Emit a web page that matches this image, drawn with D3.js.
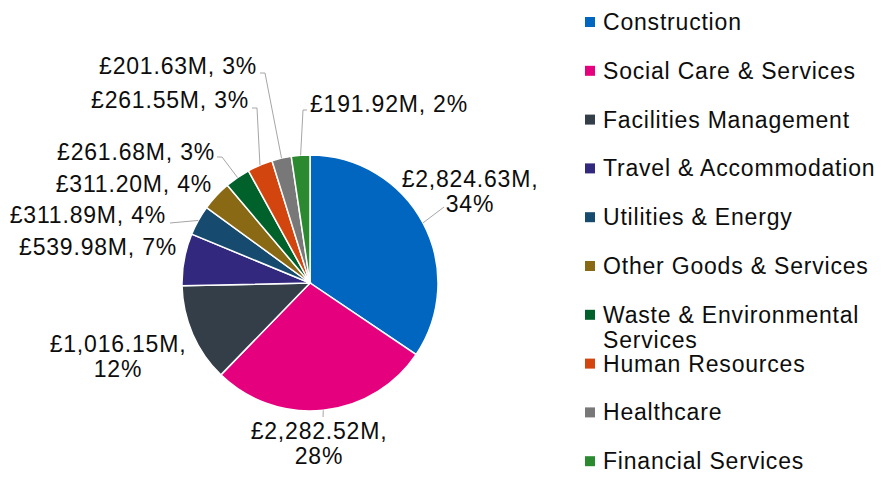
<!DOCTYPE html>
<html>
<head>
<meta charset="utf-8">
<script src="https://cdn.jsdelivr.net/npm/d3@7"></script>
<style>
  html, body { margin: 0; padding: 0; background: #fff; }
  svg { display: block; font-family: "Liberation Sans", Arial, sans-serif; }
</style>
</head>
<body>
<svg id="chart" width="892" height="489"></svg>
<script>
// Spend by category (£M)
const categories = [
  "Construction",
  "Social Care & Services",
  "Facilities Management",
  "Travel & Accommodation",
  "Utilities & Energy",
  "Other Goods & Services",
  "Waste & Environmental Services",
  "Human Resources",
  "Healthcare",
  "Financial Services",
];
const values = [2824.63, 2282.52, 1016.15, 539.98, 311.89, 311.2, 261.68, 261.55, 201.63, 191.92];
const sliceColors = [
  "#0066c0", "#e5007e", "#343e48", "#32287e", "#164a6f",
  "#8a6914", "#00612b", "#d2450e", "#787878", "#2b8a30",
];

// Label placement, relative to pie centre (Excel-style manual layout)
const labelLayout = [
  { dx: 160, dy: -96, anchor: "middle", wrap: true, leader: [[134, -76]] },
  { dx: 9, dy: 156, anchor: "middle", wrap: true, leader: [[13, 134]] },
  { dx: -192, dy: 69, anchor: "middle", wrap: true, leader: [] },
  { dx: -133, dy: -28, anchor: "end", leader: [] },
  { dx: -144, dy: -60, anchor: "end", leader: [[-140, -60]] },
  { dx: -98, dy: -91, anchor: "end", leader: [] },
  { dx: -95, dy: -123, anchor: "end", leader: [[-88, -126], [-93, -126]] },
  { dx: -61, dy: -175, anchor: "end", leader: [[-53, -175], [-58, -175]] },
  { dx: -53, dy: -209, anchor: "end", leader: [[-45, -210], [-50, -210]] },
  { dx: 0, dy: -171, anchor: "start", leader: [[-7, -173], [-3, -173]] },
];

const cx = 310;
const cy = 283;
const radius = 128;
const fontSize = 23;
const spacing = 0.8;
const textColor = "#0d0d0d";

const svg = d3.select("#chart");

// Percentages rounded so they add up to 100 (largest remainder, as Excel does)
const total = d3.sum(values);
const raw = values.map((v) => (v / total) * 100);
const pct = raw.map(Math.floor);
let missing = 100 - d3.sum(pct);
const order = d3.range(values.length).sort((a, b) => (raw[b] - pct[b]) - (raw[a] - pct[a]));
for (const i of order) {
  if (missing <= 0) break;
  pct[i] += 1;
  missing -= 1;
}

const fmt = d3.format(",.2f");
const pie = d3.pie().sort(null).value((d) => d)(values);
const arc = d3.arc().innerRadius(0).outerRadius(radius);

const g = svg.append("g").attr("transform", `translate(${cx},${cy})`);

g.selectAll("path.slice")
  .data(pie)
  .join("path")
  .attr("class", "slice")
  .attr("d", arc)
  .attr("fill", (d, i) => sliceColors[i])
  .attr("stroke", "#fff")
  .attr("stroke-width", 1.5);

// Leader lines from the slice edge at mid angle
const line = d3.line();
pie.forEach((d, i) => {
  const lay = labelLayout[i];
  if (!lay.leader.length) return;
  const mid = (d.startAngle + d.endAngle) / 2;
  const start = [Math.sin(mid) * radius, -Math.cos(mid) * radius];
  g.append("path")
    .attr("d", line([start, ...lay.leader]))
    .attr("fill", "none")
    .attr("stroke", "#a6a6a6")
    .attr("stroke-width", 1);
});

// Data labels
pie.forEach((d, i) => {
  const lay = labelLayout[i];
  const valueText = `£${fmt(values[i])}M,`;
  const pctText = `${pct[i]}%`;
  const t = g.append("text")
    .attr("x", lay.dx)
    .attr("y", lay.dy)
    .attr("text-anchor", lay.anchor)
    .attr("font-size", fontSize)
    .attr("letter-spacing", spacing)
    .attr("fill", textColor);
  if (lay.wrap) {
    t.append("tspan").attr("x", lay.dx).text(valueText);
    t.append("tspan").attr("x", lay.dx).attr("dy", 25).text(pctText);
  } else {
    t.text(`${valueText} ${pctText}`);
  }
});

// Legend
const legend = svg.append("g").attr("transform", "translate(585, 22)");
const rowGap = 48.8;
const maxTextWidth = 290;
categories.forEach((name, i) => {
  const row = legend.append("g").attr("transform", `translate(0, ${i * rowGap})`);
  row.append("rect")
    .attr("x", 0)
    .attr("y", -5)
    .attr("width", 10)
    .attr("height", 10)
    .attr("fill", sliceColors[i]);
  const text = row.append("text")
    .attr("x", 18)
    .attr("y", 8)
    .attr("font-size", fontSize)
    .attr("letter-spacing", spacing)
    .attr("fill", textColor);
  // simple word wrap
  const words = name.split(" ");
  let current = [];
  let tspan = text.append("tspan").attr("x", 18);
  for (const w of words) {
    current.push(w);
    tspan.text(current.join(" "));
    if (tspan.node().getComputedTextLength() > maxTextWidth && current.length > 1) {
      current.pop();
      tspan.text(current.join(" "));
      current = [w];
      tspan = text.append("tspan").attr("x", 18).attr("dy", 25).text(w);
    }
  }
});
</script>
</body>
</html>
